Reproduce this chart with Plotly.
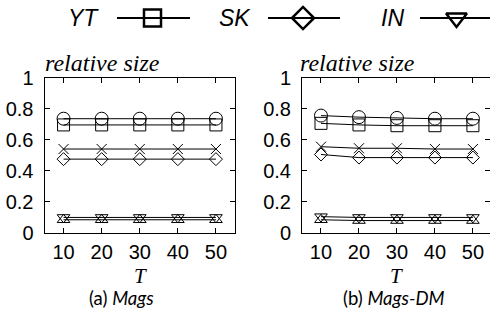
import plotly.graph_objects as go

# ---------------- data ----------------
T = [10, 20, 30, 40, 50]
y_ticks = [0, 0.2, 0.4, 0.6, 0.8, 1]

# panel (a) Mags
a_circle = [0.735, 0.735, 0.735, 0.735, 0.735]
a_yt = [0.695, 0.695, 0.695, 0.695, 0.695]
a_cross = [0.54, 0.54, 0.54, 0.54, 0.54]
a_sk = [0.475, 0.475, 0.475, 0.475, 0.475]
a_in = [0.10, 0.10, 0.10, 0.10, 0.10]
a_tri = [0.085, 0.085, 0.085, 0.085, 0.085]

# panel (b) Mags-DM
b_circle = [0.755, 0.745, 0.74, 0.735, 0.735]
b_yt = [0.705, 0.695, 0.69, 0.69, 0.69]
b_cross = [0.555, 0.545, 0.545, 0.54, 0.54]
b_sk = [0.505, 0.485, 0.485, 0.485, 0.485]
b_in = [0.105, 0.10, 0.10, 0.10, 0.10]
b_tri = [0.085, 0.08, 0.08, 0.08, 0.08]

legend_names = ["YT", "SK", "IN"]
captions = ["(a) <i>Mags</i>", "(b) <i>Mags-DM</i>"]

# ---------------- style ----------------
W, H = 490, 324
BLACK = "#000000"
SANS = "Liberation Sans"
SERIF = "Liberation Serif"

series_style = [
    ("circle-open", 13),
    ("square-open", 12),
    ("x-thin-open", 10),
    ("diamond-open", 10),
    ("triangle-down-open", 11),
    ("triangle-up-open", 11),
]

fig = go.Figure()

panels = [
    ("x", "y", [a_circle, a_yt, a_cross, a_sk, a_in, a_tri]),
    ("x2", "y2", [b_circle, b_yt, b_cross, b_sk, b_in, b_tri]),
]
for xa, ya, series in panels:
    for (sym, sz), vals in zip(series_style, series):
        fig.add_trace(go.Scatter(
            x=T, y=vals, xaxis=xa, yaxis=ya, mode="lines+markers",
            line=dict(color=BLACK, width=1),
            marker=dict(symbol=sym, size=sz, color=BLACK,
                        line=dict(color=BLACK, width=1)),
            showlegend=False, cliponaxis=False,
        ))

# -------- manual legend (text left of sample, like the original) --------
leg_items = [
    # name, text right edge px, line x0, line x1, symbol, size
    (legend_names[0], 101, 117, 190, "square-open", 17),
    (legend_names[1], 253, 268, 340, "diamond-open", 17),
    (legend_names[2], 406, 420, 495, "triangle-down-open", 18),
]
LEG_Y = 18
for name, tx, lx0, lx1, sym, sz in leg_items:
    fig.add_trace(go.Scatter(
        x=[lx0, lx1], y=[LEG_Y, LEG_Y], xaxis="x3", yaxis="y3", mode="lines",
        line=dict(color=BLACK, width=2), showlegend=False, hoverinfo="skip",
        cliponaxis=False))
    fig.add_trace(go.Scatter(
        x=[(lx0 + lx1) / 2 - 1], y=[LEG_Y], xaxis="x3", yaxis="y3", mode="markers",
        marker=dict(symbol=sym, size=sz, color=BLACK, line=dict(color=BLACK, width=2.5)),
        showlegend=False, hoverinfo="skip", cliponaxis=False))
    fig.add_annotation(x=tx / W, y=1 - LEG_Y / H, xref="paper", yref="paper",
                       text="<i>%s</i>" % name, showarrow=False,
                       xanchor="right", yanchor="middle",
                       font=dict(family=SANS, size=23, color=BLACK))

# ---------------- axes ----------------
y_bot, y_top = 233, 77.5
ydom = [(H - y_bot) / H, (H - y_top) / H]
axis_common = dict(showline=True, linecolor=BLACK, linewidth=1, mirror="ticks",
                   ticks="inside", ticklen=5, tickcolor=BLACK, tickwidth=1,
                   showgrid=False, zeroline=False, automargin=False,
                   tickfont=dict(family=SANS, size=20, color=BLACK))

fig.update_layout(
    width=W, height=H, autosize=False,
    margin=dict(l=0, r=0, t=0, b=0, pad=0, autoexpand=False),
    paper_bgcolor="white", plot_bgcolor="rgba(0,0,0,0)",
    showlegend=False,
    xaxis=dict(domain=[44.5 / W, 235 / W], range=[5, 55], tickvals=T,
               anchor="y", ticklabelstandoff=1, **axis_common),
    yaxis=dict(domain=ydom, range=[0, 1], tickvals=y_ticks,
               anchor="x", ticklabelstandoff=6, **axis_common),
    xaxis2=dict(domain=[302 / W, 1.0], range=[5, 54.5], tickvals=T,
                anchor="y2", ticklabelstandoff=1, **axis_common),
    yaxis2=dict(domain=ydom, range=[0, 1], tickvals=y_ticks,
                anchor="x2", ticklabelstandoff=6, **axis_common),
    xaxis3=dict(domain=[0, 1], range=[0, W], visible=False, fixedrange=True,
                automargin=False),
    yaxis3=dict(domain=[0, 1], range=[H, 0], visible=False, fixedrange=True,
                anchor="x3", automargin=False),
)

# axis titles / captions as annotations
for cx, cap_x, cap in [(140, 121, captions[0]), (396, 394, captions[1])]:
    fig.add_annotation(x=cx / W, y=1 - 276 / H, xref="paper", yref="paper",
                       text="<i>T</i>", showarrow=False, xanchor="center",
                       yanchor="middle", font=dict(family=SERIF, size=21, color=BLACK))
    fig.add_annotation(x=cap_x / W, y=1 - 298 / H, xref="paper", yref="paper",
                       text=cap, showarrow=False, xanchor="center",
                       yanchor="middle", font=dict(family="Lato", size=18.5, color=BLACK))
for lx in [43, 298]:
    fig.add_annotation(x=lx / W, y=1 - 78 / H, xref="paper", yref="paper",
                       text="<i>relative size</i>", showarrow=False,
                       xanchor="left", yanchor="bottom",
                       font=dict(family=SERIF, size=24, color=BLACK))

fig.write_html("out.html", config={"displayModeBar": False},
               post_script="document.body.style.margin='0px';document.body.style.padding='0px';")
